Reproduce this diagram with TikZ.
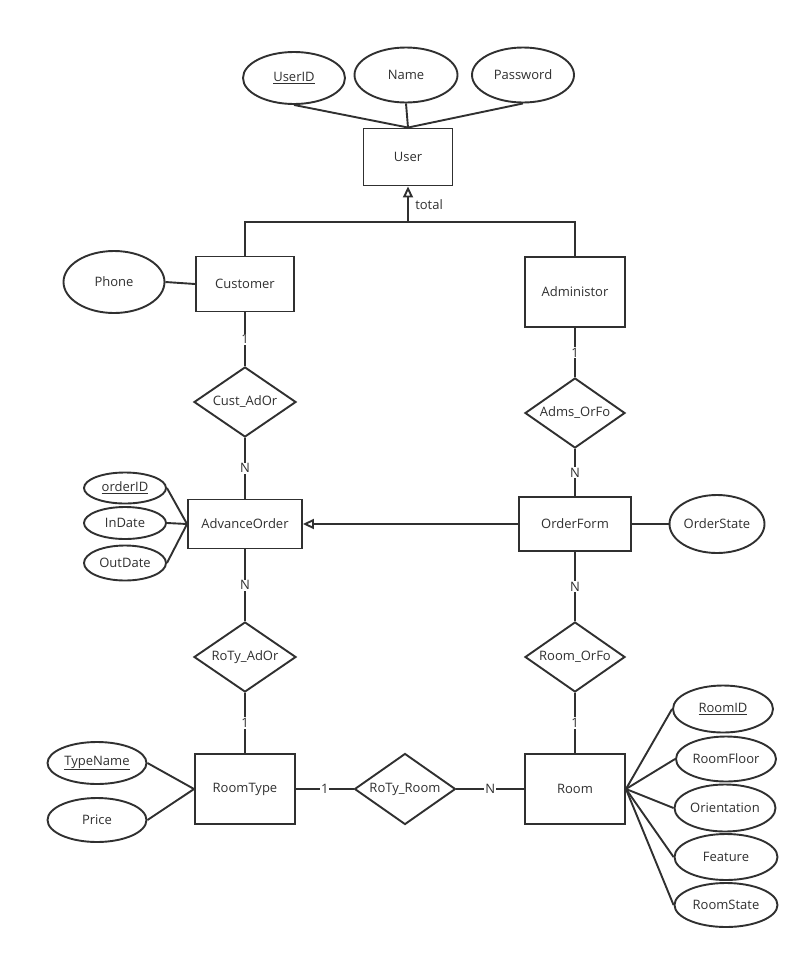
\documentclass[tikz,border=0pt]{standalone}
\usepackage{fontspec}
\setmainfont{Open Sans}
\usetikzlibrary{shapes.geometric,arrows.meta}
\definecolor{erline}{HTML}{303030}

\begin{document}
\begin{tikzpicture}[x=1pt,y=-1pt,line width=1.9pt,draw=erline,font=\fontsize{13}{15}\selectfont]
\tikzstyle{entity} = [draw=erline,rectangle,fill=white,text=erline,inner sep=0pt] %entites
\tikzstyle{attrib} = [draw=erline,ellipse,fill=white,text=erline,inner sep=0pt] %attributs
\tikzstyle{relation} = [draw=erline,diamond,aspect=1.45,fill=white,text=erline,inner sep=0pt] %associations
\tikzstyle{card} = [fill=white,text=erline,inner sep=1pt] %cardinalites
\useasboundingbox (0,0) rectangle (809,959);
%utilisateur
\node[attrib,minimum width=102pt,minimum height=52pt] (UserID) at (294,78) {\underline{UserID}};
\node[attrib,minimum width=103pt,minimum height=55pt] (Name) at (406,75) {Name};
\node[attrib,minimum width=102pt,minimum height=55pt] (Password) at (523,75) {Password};
\node[entity,minimum width=89pt,minimum height=57pt] (User) at (408,157) {User};
\draw (UserID.south) -- (User.north);
\draw (Name.south) -- (User.north);
\draw (Password.south) -- (User.north);
%heritage
\node[entity,minimum width=98pt,minimum height=55pt] (Customer) at (245,284) {Customer};
\node[entity,minimum width=100pt,minimum height=70pt] (Administor) at (575,292) {Administor};
\coordinate (isa) at (408,222);
\draw (Customer.north) |- (isa) -| (Administor.north);
\draw[-{Triangle[open,length=11pt,width=10pt]}] (isa) -- (User.south) node[midway,right,xshift=3pt,text=erline]{total};
\node[attrib,minimum width=101pt,minimum height=62pt] (Phone) at (114,282) {Phone};
\draw (Phone.east) -- (Customer.west);
%commandes
\node[relation,minimum width=102pt,minimum height=70pt] (CustAdOr) at (245,402) {Cust\_AdOr};
\node[relation,minimum width=100pt,minimum height=70pt] (AdmsOrFo) at (575,413) {Adms\_OrFo};
\node[entity,minimum width=114pt,minimum height=49pt] (AdvanceOrder) at (245,524) {AdvanceOrder};
\node[entity,minimum width=112pt,minimum height=54pt] (OrderForm) at (575,524) {OrderForm};
\node[attrib,minimum width=82pt,minimum height=31pt] (orderID) at (125,488) {\underline{orderID}};
\node[attrib,minimum width=82pt,minimum height=32pt] (InDate) at (125,523) {InDate};
\node[attrib,minimum width=82pt,minimum height=35pt] (OutDate) at (125,563) {OutDate};
\node[attrib,minimum width=95pt,minimum height=58pt] (OrderState) at (717,524) {OrderState};
\draw (Customer) -- node[card]{1} (CustAdOr);
\draw (CustAdOr) -- node[card]{N} (AdvanceOrder);
\draw (Administor) -- node[card]{1} (AdmsOrFo);
\draw (AdmsOrFo) -- node[card]{N} (OrderForm);
\draw (AdvanceOrder.west) -- (orderID.east);
\draw (AdvanceOrder.west) -- (InDate.east);
\draw (AdvanceOrder.west) -- (OutDate.east);
\draw (OrderForm.east) -- (OrderState.west);
\draw[-{Triangle[open,length=11pt,width=10pt]}] (OrderForm) -- (AdvanceOrder);
%chambres
\node[relation,minimum width=102pt,minimum height=70pt] (RoTyAdOr) at (245,657) {RoTy\_AdOr};
\node[relation,minimum width=100pt,minimum height=70pt] (RoomOrFo) at (575,657) {Room\_OrFo};
\node[entity,minimum width=100pt,minimum height=70pt] (RoomType) at (245,789) {RoomType};
\node[relation,minimum width=101pt,minimum height=71pt] (RoTyRoom) at (405,789) {RoTy\_Room};
\node[entity,minimum width=100pt,minimum height=70pt] (Room) at (575,789) {Room};
\draw (AdvanceOrder) -- node[card]{N} (RoTyAdOr);
\draw (RoTyAdOr) -- node[card]{1} (RoomType);
\draw (OrderForm) -- node[card]{N} (RoomOrFo);
\draw (RoomOrFo) -- node[card]{1} (Room);
\draw (RoomType) -- node[card]{1} (RoTyRoom);
\draw (RoTyRoom) -- node[card]{N} (Room);
\node[attrib,minimum width=99pt,minimum height=42pt] (TypeName) at (97,763) {\underline{TypeName}};
\node[attrib,minimum width=99pt,minimum height=44pt] (Price) at (97,820) {Price};
\draw (RoomType.west) -- (TypeName.east);
\draw (RoomType.west) -- (Price.east);
\node[attrib,minimum width=100pt,minimum height=47pt] (RoomID) at (723,709) {\underline{RoomID}};
\node[attrib,minimum width=100pt,minimum height=45pt] (RoomFloor) at (726,759) {RoomFloor};
\node[attrib,minimum width=101pt,minimum height=47pt] (Orientation) at (725,808) {Orientation};
\node[attrib,minimum width=103pt,minimum height=46pt] (Feature) at (726,857) {Feature};
\node[attrib,minimum width=103pt,minimum height=44pt] (RoomState) at (726,905) {RoomState};
\foreach \a in {RoomID,RoomFloor,Orientation,Feature,RoomState}
  \draw (Room.east) -- (\a.west);
\end{tikzpicture}
\end{document}
